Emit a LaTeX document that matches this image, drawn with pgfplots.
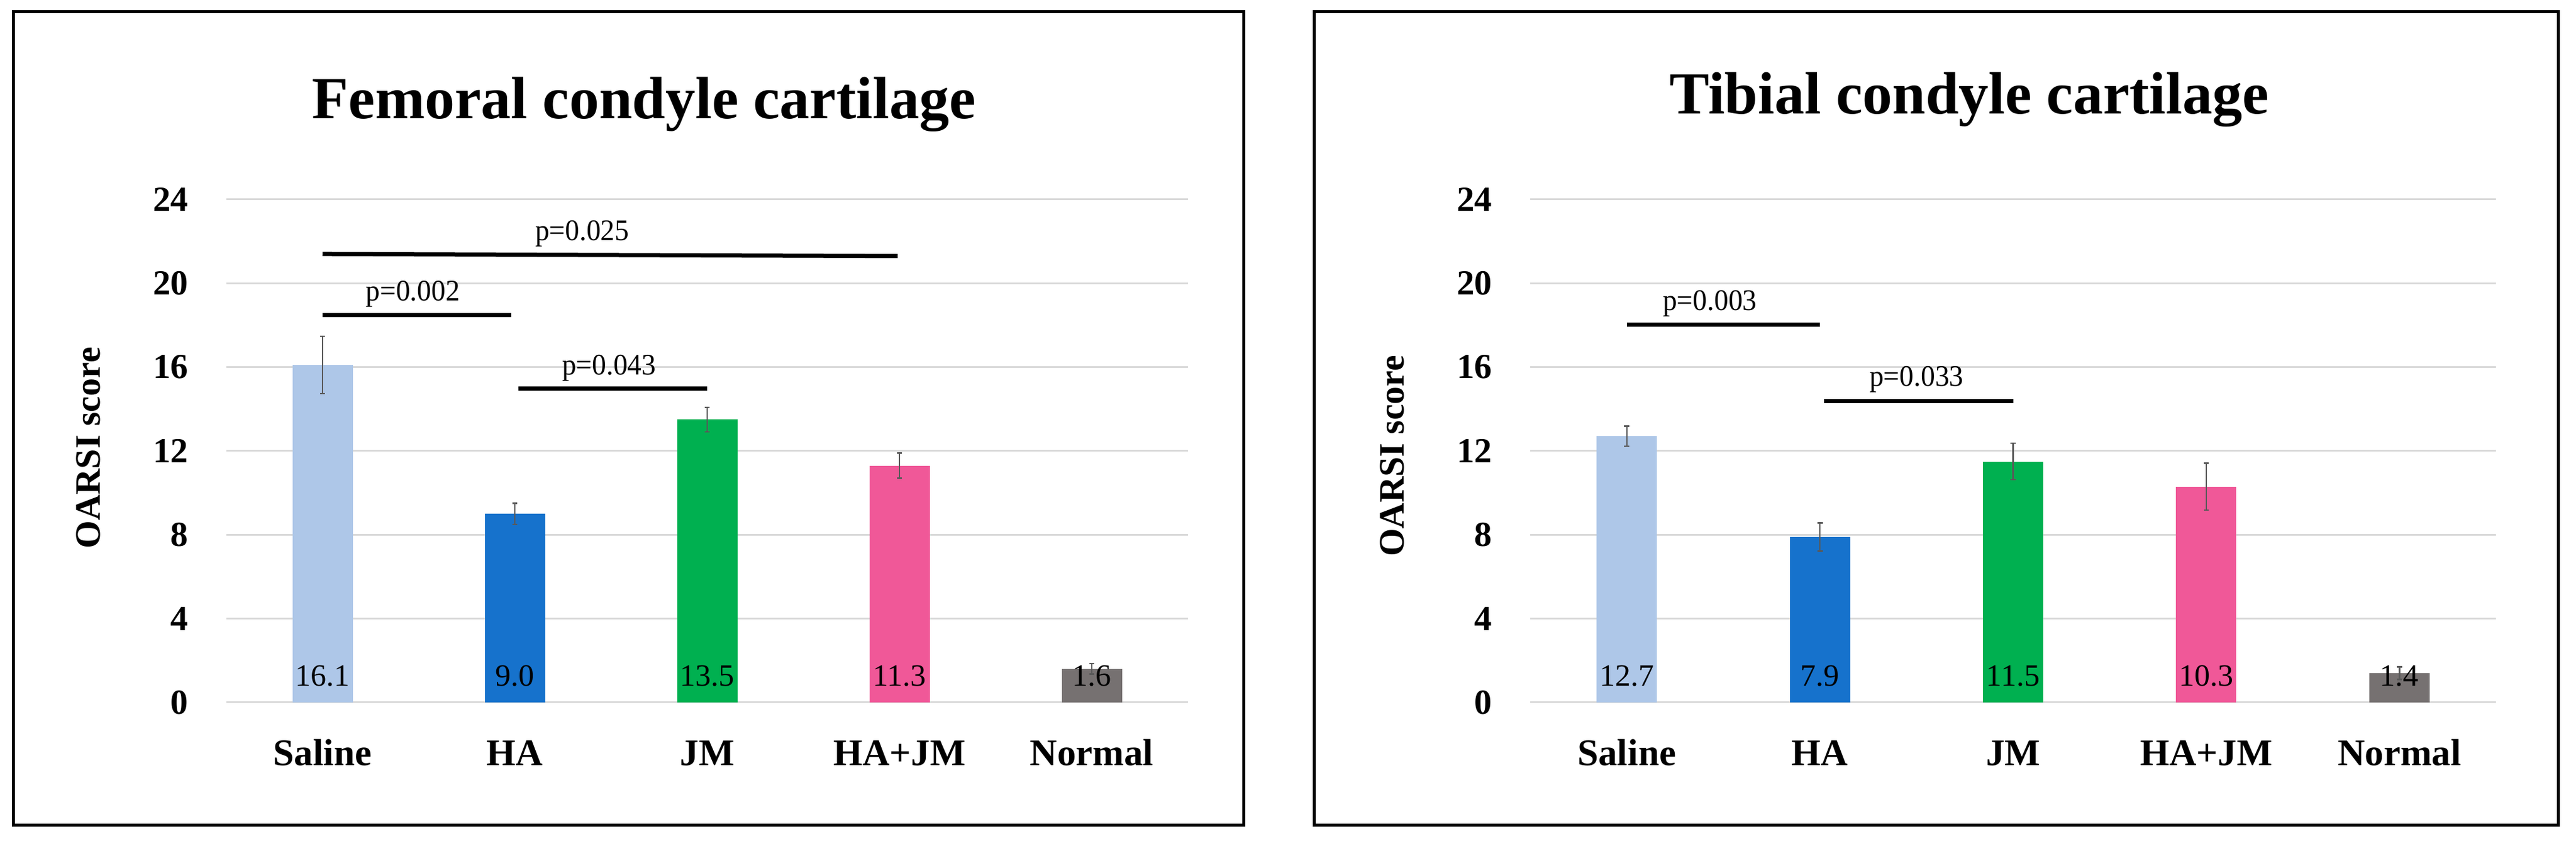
\documentclass[border=0pt]{standalone}
\usepackage{fontspec}
\setmainfont{Liberation Serif}
\usepackage{graphicx}
\usepackage{pgfplots}
\pgfplotsset{compat=1.18}

\definecolor{saline}{RGB}{174,199,232}
\definecolor{ha}{RGB}{22,114,204}
\definecolor{jm}{RGB}{0,176,80}
\definecolor{hajm}{RGB}{240,88,152}
\definecolor{normal}{RGB}{118,113,113}
\definecolor{gridc}{RGB}{217,217,217}
\definecolor{errc}{RGB}{89,89,89}

\pgfplotsset{
  oarsi/.style={
    scale only axis, height=210.5pt,
    xmin=-0.5, xmax=4.5, ymin=0, ymax=24,
    xtick={0,...,4}, xticklabels={Saline,HA,JM,HA+JM,Normal},
    ytick={0,4,...,24},
    ymajorgrids, grid style={gridc, line width=0.75pt},
    axis line style={draw=none}, major tick length=0pt,
    clip=false,
    /pgf/number format/assume math mode=true,
    xticklabel style={font=\bfseries\fontsize{15.75}{16}\selectfont, anchor=base, inner sep=0pt, yshift=-26.5pt},
    yticklabel style={font=\bfseries\fontsize{14.75}{15}\selectfont, anchor=east, inner sep=0pt, xshift=-15.75pt},
    ylabel={OARSI score},
  },
  bar/.style={ybar, bar width=25.25pt, bar shift=0pt, fill=#1, draw=none,
    nodes near coords={\pgfmathprintnumber[fixed,fixed zerofill,precision=1]{\pgfplotspointmeta}},
    visualization depends on={rawy \as \rawy},
    every node near coord/.style={shift={(axis direction cs:0,-\rawy)}, anchor=base, yshift=6.75pt,
      inner sep=0pt, font=\fontsize{13}{14}\selectfont, text=black},
    /pgfplots/error bars/.cd, y dir=both, y explicit,
    error bar style={errc, line width=0.6pt},
    error mark options={errc, rotate=90, mark size=1.1pt, line width=0.6pt}},
  sig/.style={sharp plot, black, line width=1.75pt, mark=none, line cap=butt},
}
\newcommand{\plab}[1]{\scalebox{0.95}[1]{#1}}

\begin{document}
\begin{tikzpicture}
\path[use as bounding box] (0,0) rectangle (1078.25pt,352pt);
\draw[line width=1.25pt] (5.5pt,6.5pt) rectangle (520.5pt,347pt);
\draw[line width=1.25pt] (550pt,6.5pt) rectangle (1070.75pt,347pt);

% femoral condyle
\begin{axis}[oarsi, width=402.5pt, at={(94.75pt,58pt)}, anchor=south west,
  every axis y label/.style={at={(axis description cs:-0.1435,0.506)}, rotate=90, anchor=center,
    font=\bfseries\fontsize{15}{16}\selectfont}]
\addplot[bar=saline] coordinates {(0,16.1) +- (0,1.37)};
\addplot[bar=ha] coordinates {(1,9.0) +- (0,0.5)};
\addplot[bar=jm] coordinates {(2,13.5) +- (0,0.58)};
\addplot[bar=hajm] coordinates {(3,11.3) +- (0,0.6)};
\addplot[bar=normal] coordinates {(4,1.6) +- (0,0.25)};
\addplot[sig] coordinates {(0,21.4) (2.99,21.3)};
\addplot[sig] coordinates {(0,18.47) (0.98,18.47)};
\addplot[sig] coordinates {(1.02,14.97) (2.0,14.97)};
\node[anchor=base, inner sep=0pt, font=\fontsize{12.5}{13}\selectfont] at (axis cs:1.35,22.06) {\plab{p=0.025}};
\node[anchor=base, inner sep=0pt, font=\fontsize{12.5}{13}\selectfont] at (axis cs:0.47,19.16) {\plab{p=0.002}};
\node[anchor=base, inner sep=0pt, font=\fontsize{12.5}{13}\selectfont] at (axis cs:1.49,15.62) {\plab{p=0.043}};
\end{axis}
\node[anchor=base, inner sep=0pt, font=\bfseries\fontsize{25}{26}\selectfont] at (269.5pt,302.25pt) {Femoral condyle cartilage};

% tibial condyle
\begin{axis}[oarsi, width=404.25pt, at={(640.5pt,58pt)}, anchor=south west,
  every axis y label/.style={at={(axis description cs:-0.1429,0.49)}, rotate=90, anchor=center,
    font=\bfseries\fontsize{15}{16}\selectfont}]
\addplot[bar=saline] coordinates {(0,12.7) +- (0,0.48)};
\addplot[bar=ha] coordinates {(1,7.9) +- (0,0.67)};
\addplot[bar=jm] coordinates {(2,11.5) +- (0,0.87)};
\addplot[bar=hajm] coordinates {(3,10.3) +- (0,1.12)};
\addplot[bar=normal] coordinates {(4,1.4) +- (0,0.3)};
\addplot[sig] coordinates {(0,18.02) (1.0,18.02)};
\addplot[sig] coordinates {(1.02,14.38) (2.0,14.38)};
\node[anchor=base, inner sep=0pt, font=\fontsize{12.5}{13}\selectfont] at (axis cs:0.43,18.70) {\plab{p=0.003}};
\node[anchor=base, inner sep=0pt, font=\fontsize{12.5}{13}\selectfont] at (axis cs:1.50,15.09) {\plab{p=0.033}};
\end{axis}
\node[anchor=base, inner sep=0pt, font=\bfseries\fontsize{25}{26}\selectfont] at (824.25pt,304.25pt) {Tibial condyle cartilage};
\end{tikzpicture}
\end{document}
